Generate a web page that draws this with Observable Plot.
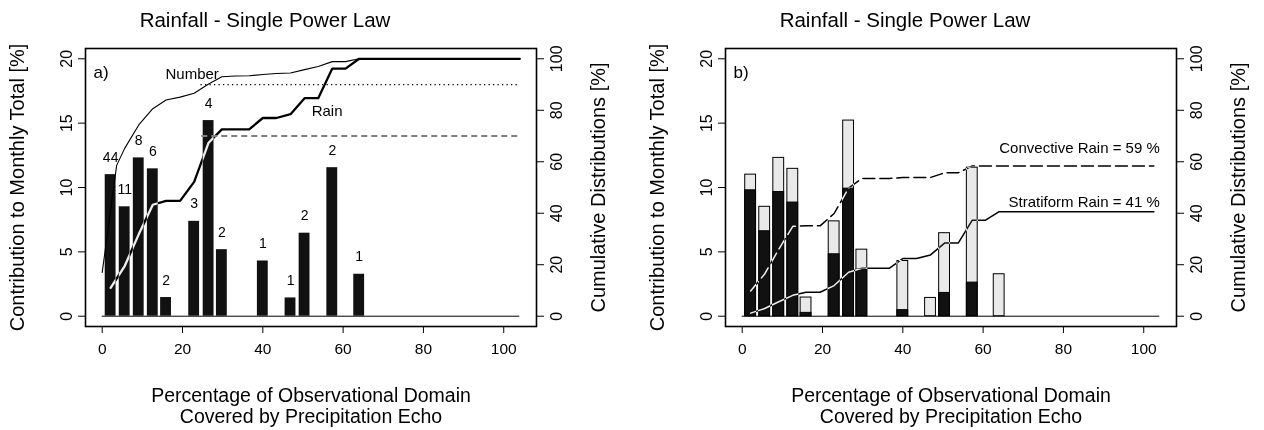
<!DOCTYPE html>
<html><head><meta charset="utf-8">
<script src="https://cdn.jsdelivr.net/npm/d3@7"></script>
<script src="https://cdn.jsdelivr.net/npm/@observablehq/plot@0.6"></script>
<style>
body{margin:0;background:#fff;width:1264px;height:430px;overflow:hidden;position:relative;font-family:"Liberation Sans",Arial,Helvetica,sans-serif}
#a{position:absolute;left:0;top:0}
#b{position:absolute;left:640px;top:0}
</style></head><body>
<div id="a"></div><div id="b"></div>
<script>
// ---- data ----
const titleText = "Rainfall - Single Power Law";
const xTitle = "Percentage of Observational Domain\nCovered by Precipitation Echo";
const yLeftTitle = "Contribution to Monthly Total [%]";
const yRightTitle = "Cumulative Distributions [%]";
const xTicks = [0, 20, 40, 60, 80, 100];
const yLeftTicks = [0, 5, 10, 15, 20];
const yRightTicks = [0, 20, 40, 60, 80, 100];

// bars: centre of each echo-coverage bin (%), rain contribution (%), number of cases
const binCenters = [2.1, 5.6, 9.1, 12.6, 15.9, 22.9, 26.5, 29.8, 40.0, 46.9, 50.4, 57.3, 64.0];
const rainContribution = [11.0, 8.5, 12.3, 11.45, 1.45, 7.37, 15.2, 5.17, 4.29, 1.42, 6.45, 11.54, 3.26];
const caseCounts = [44, 11, 8, 6, 2, 3, 4, 2, 1, 1, 2, 2, 1];
const convectiveContribution = [9.78, 6.6, 9.65, 8.83, 0.26, 4.81, 9.91, 3.62, 0.47, 0, 1.81, 2.61, 0];

// cumulative curves (x in %, value in % on the right axis)
const numberCumX = [0, 3.6, 5.6, 9.1, 12.6, 15.9, 19.4, 22.9, 26.5, 29.8, 33.2, 36.6, 40.0, 43.4, 46.9, 50.4, 53.8, 57.3, 60.6, 64.0, 104];
const numberCumY = [17, 58.6, 65.2, 74.3, 80.6, 84.0, 85.1, 86.6, 90.2, 93.0, 93.3, 93.4, 93.9, 94.3, 94.5, 95.8, 97.0, 98.9, 98.9, 100, 100];
const cumX = [2.1, 5.6, 9.1, 12.6, 15.9, 19.4, 22.9, 26.5, 29.8, 33.2, 36.6, 40.0, 43.4, 46.9, 50.4, 53.8, 57.3, 60.6, 64.0];
const rainCumY = [11.0, 19.5, 31.8, 43.3, 44.8, 44.8, 52.2, 67.4, 72.6, 72.6, 72.6, 77.0, 77.0, 78.5, 84.7, 84.7, 96.2, 96.2, 100];
const convCumY = [9.8, 16.4, 26.0, 34.9, 35.1, 35.1, 39.9, 49.8, 53.5, 53.5, 53.5, 53.9, 53.9, 53.9, 55.7, 55.7, 58.4, 58.4, 58.4];
const stratCumY = [1.2, 3.0, 5.6, 8.1, 9.3, 9.3, 11.9, 17.1, 18.6, 18.6, 18.6, 22.4, 22.4, 23.8, 28.4, 28.4, 37.3, 37.3, 40.6];
const curveEndA = 104, curveEndB = 102.5;

// reference levels in panel a (right-axis %) and where they start
const refLevels = [90, 70];
const refStarts = [24.6, 24.8];

// annotations
const annotA = [{label: "Number", x: 22.4, y: 94.0}, {label: "Rain", x: 56, y: 79.5}];
const annotConv = [{label: "Convective Rain = 59 %", x: 104, y: 58.4}];
const annotStrat = [{label: "Stratiform Rain = 41 %", x: 104, y: 40.6}];

// ---- build tables ----
const bars = binCenters.map((c, i) => ({c, v: rainContribution[i], n: caseCounts[i], conv: convectiveContribution[i]}));
const R = 5; // right axis = 5 x left axis
const numberLine = numberCumX.map((x, i) => ({x, y: numberCumY[i]}));
const mk = (ys, end) => cumX.map((x, i) => ({x, y: ys[i]})).concat([{x: end, y: ys[ys.length - 1]}]);
const rainLine = mk(rainCumY, curveEndA);
const convLine = mk(convCumY, curveEndB);
const stratLine = mk(stratCumY, curveEndB);
const HW = 1.35;

const FONT = '"Liberation Sans", Arial, Helvetica, sans-serif';

function panel(width, tag, marks) {
  return Plot.plot({
    width, height: 430,
    marginTop: 48, marginBottom: 104, marginLeft: 85, marginRight: width - 536,
    x: {domain: [-4.16, 108.16]},
    y: {domain: [-0.8, 20.8]},
    style: {fontFamily: FONT, color: "black", background: "white", overflow: "visible"},
    marks: [
      Plot.frame({fill: "white", stroke: null}),
      Plot.ruleY([0], {x1: 0, x2: 104, stroke: "black", strokeWidth: 1}),
      ...marks,
      Plot.frame({stroke: "black", strokeWidth: 1.6}),
      Plot.axisX({ticks: xTicks, tickSize: 7, tickPadding: 9, fontSize: 15.5, label: null, tickFormat: d => String(d)}),
      Plot.axisY({anchor: "left", ticks: yLeftTicks, tickSize: 7, tickPadding: 7, tickRotate: -90, fontSize: 16, label: null, tickFormat: d => String(d)}),
      Plot.axisY({anchor: "right", ticks: yRightTicks.map(d => d / R), tickSize: 7, tickPadding: 7, tickRotate: -90, lineAnchor: "top", fontSize: 16, label: null, tickFormat: d => String(Math.round(d * R))}),
      Plot.text([titleText], {frameAnchor: "top", dx: -46, dy: -36, fontSize: 20.5}),
      Plot.text([yLeftTitle], {frameAnchor: "left", textAnchor: "middle", rotate: -90, dx: -68, fontSize: 20}),
      Plot.text([yRightTitle], {frameAnchor: "right", textAnchor: "middle", rotate: -90, dx: 62, fontSize: 20}),
      Plot.text([xTitle], {frameAnchor: "bottom", dy: 60, lineAnchor: "top", lineHeight: 1.1, fontSize: 19.5}),
      Plot.text([tag], {frameAnchor: "top-left", dx: 8, dy: 17, textAnchor: "start", fontSize: 17})
    ]
  });
}

const a = panel(632, "a)", [
  Plot.rectY(bars, {x1: d => d.c - HW, x2: d => d.c + HW, y1: 0, y2: "v", fill: "#111"}),
  Plot.text(bars, {x: "c", y: "v", text: d => String(d.n), dy: -13, lineAnchor: "bottom", fontSize: 14}),
  ...refLevels.map((lv, i) => Plot.ruleY([lv / R], {x1: refStarts[i], x2: curveEndA, stroke: "white", mixBlendMode: "difference",
      strokeWidth: i === 0 ? 1.3 : 1.2, strokeDasharray: i === 0 ? "1.3,3.2" : "6,4"})),
  Plot.line(rainLine, {x: "x", y: d => d.y / R, stroke: "white", strokeWidth: 2.3, mixBlendMode: "difference"}),
  Plot.line(numberLine, {x: "x", y: d => d.y / R, stroke: "black", strokeWidth: 1.1}),
  Plot.text(annotA, {x: "x", y: d => d.y / R, text: "label", fontSize: 15})
]);

const b = panel(624, "b)", [
  Plot.rectY(bars, {x1: d => d.c - HW, x2: d => d.c + HW, y1: 0, y2: "v", fill: "#e9e9e9", stroke: "black", strokeWidth: 1}),
  Plot.rectY(bars.filter(d => d.conv > 0), {x1: d => d.c - HW, x2: d => d.c + HW, y1: 0, y2: "conv", fill: "#111", stroke: "black", strokeWidth: 1}),
  Plot.line(convLine, {x: "x", y: d => d.y / R, stroke: "white", strokeWidth: 1.5, strokeDasharray: "12,5", mixBlendMode: "difference"}),
  Plot.line(stratLine, {x: "x", y: d => d.y / R, stroke: "white", strokeWidth: 1.5, mixBlendMode: "difference"}),
  Plot.text(annotConv, {x: "x", y: d => d.y / R, text: "label", textAnchor: "end", lineAnchor: "bottom", dy: -13, fontSize: 15}),
  Plot.text(annotStrat, {x: "x", y: d => d.y / R, text: "label", textAnchor: "end", lineAnchor: "bottom", dy: -5, fontSize: 15})
]);

document.getElementById("a").appendChild(a);
document.getElementById("b").appendChild(b);
</script>
</body></html>
